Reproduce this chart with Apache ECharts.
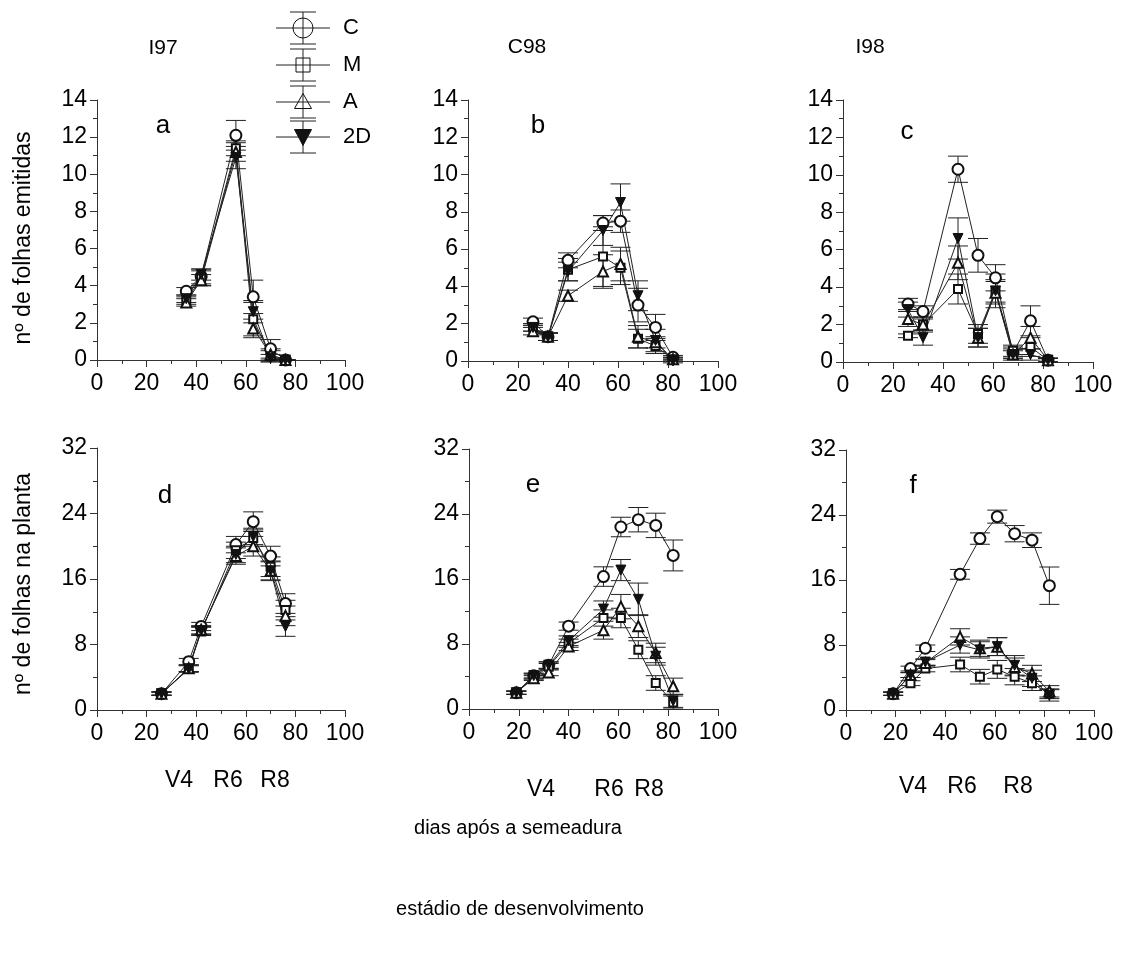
<!DOCTYPE html>
<html>
<head>
<meta charset="utf-8">
<script src="https://cdn.jsdelivr.net/npm/echarts@6/dist/echarts.min.js"></script>
<style>html,body{margin:0;padding:0;background:#fff}#c{width:1122px;height:958px}</style>
</head>
<body>
<div id="c"></div>
<script>
// ---------- data ----------
const seriesNames = ['C', 'M', 'A', '2D'];
const panelLetters = ['a', 'b', 'c', 'd', 'e', 'f'];
const columnTitles = ['I97', 'C98', 'I98'];
const xTicks = [0, 20, 40, 60, 80, 100];
const yTicksTop = [0, 2, 4, 6, 8, 10, 12, 14];
const yTicksBottom = [0, 8, 16, 24, 32];

// panel a (I97, leaves emitted)
const days_a = [36, 42, 56, 63, 70, 76];
const a_C  = [3.7, 4.5, 12.1, 3.4, 0.6, 0];
const a_M  = [3.2, 4.4, 11.4, 2.2, 0.2, 0];
const a_A  = [3.1, 4.3, 11.2, 1.7, 0.3, 0];
const a_2D = [3.3, 4.6, 10.9, 2.6, 0.1, 0];
const a_C_err  = [0.2, 0.4, 0.8, 0.9, 0.5, 0];
const a_M_err  = [0.2, 0.4, 0.4, 0.9, 0.3, 0];
const a_A_err  = [0.2, 0.3, 0.5, 0.5, 0.3, 0];
const a_2D_err = [0.2, 0.3, 0.6, 0.6, 0.2, 0];

// panel b (C98, leaves emitted)
const days_b = [26, 32, 40, 54, 61, 68, 75, 82];
const b_C  = [2.1, 1.3, 5.4, 7.4, 7.5, 3.0, 1.8, 0.2];
const b_M  = [1.8, 1.3, 4.9, 5.6, 5.0, 1.2, 0.8, 0.1];
const b_A  = [1.6, 1.3, 3.5, 4.8, 5.2, 1.3, 1.0, 0.1];
const b_2D = [1.8, 1.3, 4.8, 7.0, 8.5, 3.5, 1.1, 0.0];
const b_C_err  = [0.2, 0.2, 0.4, 0.4, 0.6, 0.9, 0.7, 0.1];
const b_M_err  = [0.2, 0.2, 0.6, 1.6, 0.9, 0.5, 0.4, 0.1];
const b_A_err  = [0.2, 0.2, 0.3, 0.9, 0.9, 0.6, 0.3, 0.1];
const b_2D_err = [0.2, 0.2, 0.5, 0.8, 1.0, 0.8, 0.6, 0.1];

// panel c (I98, leaves emitted)
const days_c = [26, 32, 46, 54, 61, 68, 75, 82];
const c_C  = [3.1, 2.7, 10.3, 5.7, 4.5, 0.5, 2.2, 0.1];
const c_M  = [1.4, 2.0, 3.9, 1.5, 3.8, 0.6, 0.8, 0.1];
const c_A  = [2.3, 2.0, 5.3, 1.3, 3.7, 0.4, 1.3, 0.1];
const c_2D = [2.8, 1.3, 6.6, 1.3, 3.8, 0.4, 0.4, 0.1];
const c_C_err  = [0.3, 0.3, 0.7, 0.9, 0.7, 0.3, 0.8, 0.1];
const c_M_err  = [0.1, 0.3, 0.8, 0.5, 0.6, 0.3, 0.5, 0.1];
const c_A_err  = [0.4, 0.4, 0.9, 0.5, 0.6, 0.2, 0.6, 0.1];
const c_2D_err = [0.4, 0.4, 1.1, 0.5, 0.9, 0.3, 0.3, 0.1];

// panel d (I97, leaves on plant)
const days_d = [26, 37, 42, 56, 63, 70, 76];
const d_C  = [2, 5.9, 10.2, 20.2, 23.0, 18.8, 13.0];
const d_M  = [2, 5.1, 9.6, 19.5, 21.0, 17.5, 12.2];
const d_A  = [2, 5.1, 9.8, 18.8, 20.0, 17.0, 11.5];
const d_2D = [2, 5.0, 9.7, 19.0, 21.2, 17.0, 10.2];
const d_C_err  = [0.2, 0.4, 0.5, 1.0, 1.2, 1.2, 1.2];
const d_M_err  = [0.2, 0.4, 0.5, 1.0, 1.0, 1.2, 1.2];
const d_A_err  = [0.2, 0.4, 0.5, 1.0, 1.2, 1.1, 1.2];
const d_2D_err = [0.2, 0.4, 0.5, 1.0, 1.0, 1.2, 1.2];

// panel e (C98, leaves on plant)
const days_e = [19, 26, 32, 40, 54, 61, 68, 75, 82];
const e_C  = [2, 4.1, 5.4, 10.2, 16.3, 22.4, 23.3, 22.6, 18.9];
const e_M  = [2, 3.9, 5.2, 8.1, 11.2, 11.2, 7.3, 3.2, 0.8];
const e_A  = [2, 3.8, 4.5, 7.7, 9.7, 12.6, 10.2, 6.9, 2.8];
const e_2D = [2, 4.1, 5.4, 8.4, 12.3, 17.1, 13.5, 6.5, 1.0];
const e_C_err  = [0.2, 0.3, 0.4, 0.5, 1.2, 1.2, 1.5, 1.5, 1.9];
const e_M_err  = [0.2, 0.3, 0.4, 0.5, 1.0, 1.2, 1.1, 0.9, 0.8];
const e_A_err  = [0.2, 0.3, 0.4, 0.5, 1.1, 1.5, 1.4, 1.2, 1.0];
const e_2D_err = [0.2, 0.3, 0.4, 0.6, 1.0, 1.3, 2.0, 1.1, 0.8];

// panel f (I98, leaves on plant)
const days_f = [19, 26, 32, 46, 54, 61, 68, 75, 82];
const f_C  = [2, 5.1, 7.6, 16.7, 21.1, 23.8, 21.7, 20.9, 15.3];
const f_M  = [2, 3.3, 5.1, 5.6, 4.1, 5.0, 4.1, 3.3, 2.0];
const f_A  = [2, 4.3, 5.8, 9.0, 7.6, 7.8, 5.3, 4.5, 2.3];
const f_2D = [2, 4.3, 5.9, 8.0, 7.4, 7.8, 5.5, 3.9, 1.8];
const f_C_err  = [0.2, 0.3, 0.4, 0.6, 0.7, 0.8, 1.0, 0.9, 2.3];
const f_M_err  = [0.2, 0.3, 0.4, 0.9, 0.9, 1.1, 1.0, 0.9, 0.6];
const f_A_err  = [0.2, 0.3, 0.4, 1.0, 1.0, 1.1, 1.1, 1.0, 0.7];
const f_2D_err = [0.2, 0.3, 0.4, 1.0, 1.0, 1.1, 1.2, 1.0, 0.7];

const yTitleTop = 'nº de folhas emitidas';
const yTitleBottom = 'nº de folhas na planta';
const stageLabels = ['V4', 'R6', 'R8'];
const xTitle = 'dias após a semeadura';
const stageTitle = 'estádio de desenvolvimento';

// ---------- build ----------
const panels = [
  {days: days_a, vals: [a_C, a_M, a_A, a_2D], errs: [a_C_err, a_M_err, a_A_err, a_2D_err], ymax: 14, yint: 2},
  {days: days_b, vals: [b_C, b_M, b_A, b_2D], errs: [b_C_err, b_M_err, b_A_err, b_2D_err], ymax: 14, yint: 2},
  {days: days_c, vals: [c_C, c_M, c_A, c_2D], errs: [c_C_err, c_M_err, c_A_err, c_2D_err], ymax: 14, yint: 2},
  {days: days_d, vals: [d_C, d_M, d_A, d_2D], errs: [d_C_err, d_M_err, d_A_err, d_2D_err], ymax: 32, yint: 8},
  {days: days_e, vals: [e_C, e_M, e_A, e_2D], errs: [e_C_err, e_M_err, e_A_err, e_2D_err], ymax: 32, yint: 8},
  {days: days_f, vals: [f_C, f_M, f_A, f_2D], errs: [f_C_err, f_M_err, f_A_err, f_2D_err], ymax: 32, yint: 8}
];
const gridBoxes = [
  {left: 97, top: 100, width: 248, height: 260},
  {left: 468, top: 100, width: 250, height: 261},
  {left: 843, top: 100, width: 250, height: 262},
  {left: 97, top: 448, width: 248, height: 262},
  {left: 469, top: 449, width: 249, height: 260},
  {left: 846, top: 450, width: 248, height: 260}
];
const symbols = ['emptyCircle', 'emptyRect', 'emptyTriangle', 'path://M0,0L10,0L5,9Z'];
const symbolSizes = [11, 8, 10, 10];
const legendSymbolSizes = [20, 14, 17, 17];
const FONT = '"Liberation Sans", Arial, sans-serif';
const INK = '#000';

const grid = [], xAxis = [], yAxis = [], series = [];
panels.forEach((p, i) => {
  grid.push(Object.assign({containLabel: false}, gridBoxes[i]));
  xAxis.push({
    type: 'value', gridIndex: i, min: xTicks[0], max: xTicks[xTicks.length - 1], interval: 20,
    axisLine: {show: true, onZero: false, lineStyle: {color: '#333', width: 1}},
    axisTick: {show: true, inside: false, length: 7, lineStyle: {color: '#333'}},
    minorTick: {show: true, splitNumber: 2, length: 4, lineStyle: {color: '#333'}},
    splitLine: {show: false},
    axisLabel: {fontSize: 23, color: INK, fontFamily: FONT, margin: 12}
  });
  yAxis.push({
    type: 'value', gridIndex: i, min: 0, max: p.ymax, interval: p.yint,
    axisLine: {show: true, onZero: false, lineStyle: {color: '#333', width: 1}},
    axisTick: {show: true, inside: false, length: 7, lineStyle: {color: '#333'}},
    minorTick: {show: true, splitNumber: 2, length: 4, lineStyle: {color: '#333'}},
    splitLine: {show: false},
    axisLabel: {fontSize: 23, color: INK, fontFamily: FONT, margin: 10}
  });
  seriesNames.forEach((name, k) => {
    const vals = p.vals[k], errs = p.errs[k];
    series.push({
      type: 'custom', name: name + ' erro', xAxisIndex: i, yAxisIndex: i, z: 2, silent: true,
      data: p.days.map((d, j) => [d, vals[j] - errs[j], vals[j] + errs[j]]),
      encode: {x: 0, y: [1, 2]},
      renderItem: function (params, api) {
        const x = api.value(0);
        const lo = api.coord([x, api.value(1)]);
        const hi = api.coord([x, api.value(2)]);
        const hw = 10;
        const st = {stroke: '#222', lineWidth: 1};
        return {type: 'group', children: [
          {type: 'line', shape: {x1: lo[0], y1: lo[1], x2: hi[0], y2: hi[1]}, style: st},
          {type: 'line', shape: {x1: lo[0] - hw, y1: lo[1], x2: lo[0] + hw, y2: lo[1]}, style: st},
          {type: 'line', shape: {x1: hi[0] - hw, y1: hi[1], x2: hi[0] + hw, y2: hi[1]}, style: st}
        ]};
      }
    });
    series.push({
      type: 'line', name: name, xAxisIndex: i, yAxisIndex: i, z: 3,
      data: p.days.map((d, j) => [d, vals[j]]),
      symbol: symbols[k], symbolSize: symbolSizes[k], showAllSymbol: true,
      lineStyle: {color: '#222', width: 1},
      itemStyle: {color: '#111', borderColor: '#111', borderWidth: 1}
    });
  });
});

const graphic = [];
const txt = (x, y, text, size, extra) => graphic.push(Object.assign({
  type: 'text', x: x, y: y,
  style: {text: text, fontSize: size, fontFamily: FONT, fill: INK, textAlign: 'center', textVerticalAlign: 'middle'}
}, extra || {}));

txt(163, 48, columnTitles[0], 21);
txt(527, 47, columnTitles[1], 21);
txt(870, 47, columnTitles[2], 21);
const letterPos = [[163, 126], [538, 126], [907, 132], [165, 496], [533, 485], [913, 486]];
panelLetters.forEach((l, i) => txt(letterPos[i][0], letterPos[i][1], l, 26));
txt(24, 238, yTitleTop, 23, {rotation: Math.PI / 2});
txt(24, 584, yTitleBottom, 23, {rotation: Math.PI / 2});
const stagePos = [
  [[179, 781], [228, 781], [275, 781]],
  [[541, 790], [609, 790], [649, 790]],
  [[913, 787], [962, 787], [1018, 787]]
];
stagePos.forEach(row => row.forEach((pt, k) => txt(pt[0], pt[1], stageLabels[k], 23)));
txt(518, 828, xTitle, 20);
txt(520, 909, stageTitle, 20);

// legend: line + marker with error-bar glyph, drawn as graphics
const legendY = [28, 65, 102, 137];
legendY.forEach((cy, k) => {
  const st = {stroke: '#222', lineWidth: 1};
  graphic.push({type: 'line', shape: {x1: 303, y1: cy - 16, x2: 303, y2: cy + 16}, style: st});
  graphic.push({type: 'line', shape: {x1: 290, y1: cy - 16, x2: 316, y2: cy - 16}, style: st});
  graphic.push({type: 'line', shape: {x1: 290, y1: cy + 16, x2: 316, y2: cy + 16}, style: st});
  graphic.push({type: 'line', shape: {x1: 276, y1: cy, x2: 330, y2: cy}, style: st});
  const s = legendSymbolSizes[k];
  const mStyle = {stroke: '#111', lineWidth: 1, fill: 'rgba(255,255,255,0)'};
  if (k === 0) graphic.push({type: 'circle', shape: {cx: 303, cy: cy, r: s / 2}, style: mStyle});
  if (k === 1) graphic.push({type: 'rect', shape: {x: 303 - s / 2, y: cy - s / 2, width: s, height: s}, style: mStyle});
  if (k === 2) graphic.push({type: 'polygon', shape: {points: [[303, cy - s / 2], [303 + s / 2, cy + s / 2 - 2], [303 - s / 2, cy + s / 2 - 2]]}, style: mStyle});
  if (k === 3) graphic.push({type: 'polygon', shape: {points: [[303 - s / 2, cy - s / 2 + 1], [303 + s / 2, cy - s / 2 + 1], [303, cy + s / 2]]}, style: {fill: '#111', stroke: '#111'}});
  txt(343, cy, seriesNames[k], 22, {style: {text: seriesNames[k], fontSize: 22, fontFamily: FONT, fill: INK, textAlign: 'left', textVerticalAlign: 'middle'}});
});

const option = {
  animation: false,
  backgroundColor: '#fff',
  color: ['#111'],
  grid: grid, xAxis: xAxis, yAxis: yAxis, series: series, graphic: graphic
};
const chart = echarts.init(document.getElementById('c'), null, {renderer: 'canvas'});
chart.setOption(option);
</script>
</body>
</html>
